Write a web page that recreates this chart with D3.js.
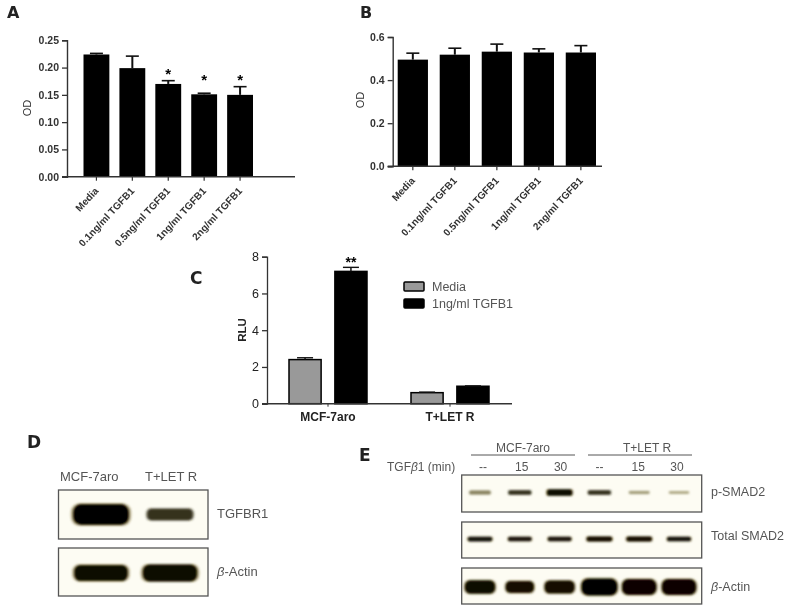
<!DOCTYPE html>
<html>
<head>
<meta charset="utf-8">
<script src="https://cdn.jsdelivr.net/npm/d3@7"></script>
<style>
  html, body { margin: 0; padding: 0; background: #fff; }
  svg { display: block; filter: blur(0.6px); font-family: "Liberation Sans", Arial, sans-serif; }
</style>
</head>
<body>
<script>
const doses = ['Media', '0.1ng/ml TGFB1', '0.5ng/ml TGFB1', '1ng/ml TGFB1', '2ng/ml TGFB1'];

const odA = [0.224, 0.199, 0.170, 0.151, 0.150];
const errA = [0.002, 0.022, 0.006, 0.002, 0.015];
const starsA = [null, null, 0.19, 0.179, 0.179];
const ticksA = [0, 0.05, 0.10, 0.15, 0.20, 0.25];

const odB = [0.495, 0.518, 0.532, 0.528, 0.528];
const errB = [0.030, 0.030, 0.035, 0.017, 0.032];
const ticksB = [0, 0.2, 0.4, 0.6];

const cells = ['MCF-7aro', 'T+LET R'];
const treatments = ['Media', '1ng/ml TGFB1'];
const rluMedia = [2.4, 0.6];
const errMedia = [0.1, 0.03];
const rluTgfb = [7.2, 0.95];
const errTgfb = [0.22, 0.02];
const ticksC = [0, 2, 4, 6, 8];

// blots: relative band signal, read by eye
const lanesD = ['MCF-7aro', 'T+LET R'];
const tgfbr1 = [1.0, 0.45];
const actinD = [0.75, 0.8];

const lanesE = ['--', '15', '30', '-- ', '15 ', '30 '];
const pSmad2 = [0.30, 0.45, 0.75, 0.45, 0.20, 0.15];
const totalSmad2 = [0.55, 0.50, 0.50, 0.62, 0.62, 0.52];
const actinE = [0.72, 0.62, 0.70, 1.0, 0.92, 0.92];

const svg = d3.select('body')
  .append('svg')
  .attr('width', 800)
  .attr('height', 614);

svg.append('defs').append('filter')
  .attr('id', 'smear')
  .attr('x', '-20%').attr('y', '-60%')
  .attr('width', '140%').attr('height', '220%')
  .append('feGaussianBlur')
  .attr('stdDeviation', 0.8);

function panelLetter(t, x, y, size) {
  svg.append('text').text(t)
    .attr('x', x).attr('y', y)
    .style('font-family', '"DejaVu Sans", sans-serif')
    .style('font-size', (size || 16) + 'px')
    .style('font-weight', 'bold')
    .style('fill', '#222');
}

function label(t, x, y, size, anchor, color) {
  return svg.append('text').text(t)
    .attr('x', x).attr('y', y)
    .attr('text-anchor', anchor || 'start')
    .style('font-size', size + 'px')
    .style('fill', color || '#555');
}

// single series bar panels A and B
function barPanel(o) {
  const y = d3.scaleLinear().domain(o.domain).range([o.y0, o.y1]);
  const x = d3.scaleBand().domain(doses).range(o.xRange).paddingInner(o.inner).paddingOuter(0);
  const g = svg.append('g');

  g.selectAll('.bar').data(doses).enter().append('rect')
    .attr('x', d => x(d))
    .attr('y', (d, i) => y(o.values[i]))
    .attr('width', x.bandwidth())
    .attr('height', (d, i) => y(0) - y(o.values[i]))
    .attr('fill', '#000');

  // error bars
  g.selectAll('.stem').data(doses).enter().append('line')
    .attr('x1', d => x(d) + x.bandwidth() / 2)
    .attr('x2', d => x(d) + x.bandwidth() / 2)
    .attr('y1', (d, i) => y(o.values[i]))
    .attr('y2', (d, i) => y(o.values[i] + o.errs[i]))
    .attr('stroke', '#111').attr('stroke-width', 2);
  g.selectAll('.cap').data(doses).enter().append('line')
    .attr('x1', d => x(d) + x.bandwidth() / 2 - 6.5)
    .attr('x2', d => x(d) + x.bandwidth() / 2 + 6.5)
    .attr('y1', (d, i) => y(o.values[i] + o.errs[i]))
    .attr('y2', (d, i) => y(o.values[i] + o.errs[i]))
    .attr('stroke', '#111').attr('stroke-width', 1.6);

  if (o.stars) {
    g.selectAll('.star').data(doses).enter().append('text')
      .filter((d, i) => o.stars[i] !== null)
      .text('*')
      .attr('x', d => x(d) + x.bandwidth() / 2)
      .attr('y', d => y(o.stars[doses.indexOf(d)]) + 6)
      .attr('text-anchor', 'middle')
      .style('font-size', '15px')
      .style('font-weight', 'bold');
  }

  const yAxis = g.append('g')
    .attr('transform', `translate(${o.xAxis},0)`)
    .call(d3.axisLeft(y).tickValues(o.ticks).tickSize(5).tickFormat(d3.format(o.fmt)));
  yAxis.selectAll('text').style('font-size', '10.5px').style('font-weight', 'bold').style('fill', '#333')
    .attr('font-family', null);
  yAxis.select('.domain').attr('stroke', '#333').attr('stroke-width', 1.4);
  yAxis.selectAll('line').attr('stroke', '#333').attr('stroke-width', 1.3);

  g.append('line')
    .attr('x1', o.xAxis - 5).attr('x2', o.xEnd)
    .attr('y1', o.y0).attr('y2', o.y0)
    .attr('stroke', '#333').attr('stroke-width', 1.4);

  const xAxis = g.append('g')
    .attr('transform', `translate(0,${o.y0})`)
    .call(d3.axisBottom(x).tickSize(4).tickPadding(3));
  xAxis.select('.domain').remove();
  xAxis.selectAll('line').attr('stroke', '#333').attr('stroke-width', 1.2);
  xAxis.selectAll('text')
    .attr('text-anchor', 'end')
    .attr('dx', '-9px').attr('dy', '0.5em')
    .attr('transform', 'rotate(-47)')
    .style('font-size', '10px')
    .style('font-weight', 'bold')
    .style('fill', '#333');

  svg.append('text').text('OD')
    .attr('transform', `translate(${o.odX},${o.odY}) rotate(-90)`)
    .attr('text-anchor', 'middle')
    .style('font-size', '11px')
    .style('fill', '#333');
}

panelLetter('A', 7, 18);
barPanel({
  values: odA, errs: errA, stars: starsA, ticks: ticksA, domain: [0, 0.25], fmt: '.2f',
  y0: 176.7, y1: 40.3, xRange: [83.5, 253], inner: 0.28, xAxis: 67, xEnd: 295, odX: 31, odY: 108
});

panelLetter('B', 360, 18);
barPanel({
  values: odB, errs: errB, ticks: ticksB, domain: [0, 0.6], fmt: '.1f',
  y0: 166.3, y1: 37, xRange: [397.7, 596], inner: 0.28, xAxis: 392.7, xEnd: 602, odX: 364, odY: 100
});

// panel C, grouped bars
panelLetter('C', 190, 284, 17);
const yC = d3.scaleLinear().domain([0, 8]).range([403.7, 256.7]);
const xC = d3.scaleBand().domain(cells).range([268, 512]).paddingInner(0);
const xSub = d3.scaleBand().domain(treatments).range([-39, 39]).paddingInner(0.3);
const fillC = d3.scaleOrdinal().domain(treatments).range(['#999', '#000']);
const groupC = [
  { name: treatments[0], vals: rluMedia, errs: errMedia },
  { name: treatments[1], vals: rluTgfb, errs: errTgfb }
];

groupC.forEach(s => {
  const g = svg.append('g');
  g.selectAll('rect').data(cells).enter().append('rect')
    .attr('x', d => xC(d) + xC.bandwidth() / 2 - 1 + xSub(s.name))
    .attr('y', (d, i) => yC(s.vals[i]))
    .attr('width', xSub.bandwidth())
    .attr('height', (d, i) => yC(0) - yC(s.vals[i]))
    .attr('fill', fillC(s.name))
    .attr('stroke', '#000').attr('stroke-width', 1.5);
  g.selectAll('line.stem').data(cells).enter().append('line')
    .attr('class', 'stem')
    .attr('x1', d => xC(d) + xC.bandwidth() / 2 - 1 + xSub(s.name) + xSub.bandwidth() / 2)
    .attr('x2', d => xC(d) + xC.bandwidth() / 2 - 1 + xSub(s.name) + xSub.bandwidth() / 2)
    .attr('y1', (d, i) => yC(s.vals[i]))
    .attr('y2', (d, i) => yC(s.vals[i] + s.errs[i]))
    .attr('stroke', '#111').attr('stroke-width', 1.5);
  g.selectAll('line.cap').data(cells).enter().append('line')
    .attr('class', 'cap')
    .attr('x1', d => xC(d) + xC.bandwidth() / 2 - 1 + xSub(s.name) + xSub.bandwidth() / 2 - 8)
    .attr('x2', d => xC(d) + xC.bandwidth() / 2 - 1 + xSub(s.name) + xSub.bandwidth() / 2 + 8)
    .attr('y1', (d, i) => yC(s.vals[i] + s.errs[i]))
    .attr('y2', (d, i) => yC(s.vals[i] + s.errs[i]))
    .attr('stroke', '#111').attr('stroke-width', 1.4);
});

svg.append('text').text('**')
  .attr('x', xC(cells[0]) + xC.bandwidth() / 2 - 1 + xSub(treatments[1]) + xSub.bandwidth() / 2)
  .attr('y', yC(7.45))
  .attr('text-anchor', 'middle')
  .style('font-size', '14px').style('font-weight', 'bold');

const axisC = svg.append('g').attr('transform', 'translate(267,0)')
  .call(d3.axisLeft(yC).tickValues(ticksC).tickSize(5));
axisC.selectAll('text').style('font-size', '12.5px').style('fill', '#222');
axisC.select('.domain').attr('stroke', '#333').attr('stroke-width', 1.3);
axisC.selectAll('line').attr('stroke', '#333').attr('stroke-width', 1.3);

svg.append('line')
  .attr('x1', 262).attr('x2', 512).attr('y1', yC(0)).attr('y2', yC(0))
  .attr('stroke', '#333').attr('stroke-width', 1.4);

const axisCx = svg.append('g').attr('transform', `translate(-1,${yC(0)})`)
  .call(d3.axisBottom(xC).tickSize(3).tickPadding(6));
axisCx.select('.domain').remove();
axisCx.selectAll('line').attr('stroke', '#333');
axisCx.selectAll('text').style('font-size', '12px').style('font-weight', 'bold').style('fill', '#222');

svg.append('text').text('RLU')
  .attr('transform', 'translate(246,330) rotate(-90)')
  .attr('text-anchor', 'middle')
  .style('font-size', '11.5px').style('font-weight', 'bold').style('fill', '#222');

const legend = svg.selectAll('.legend').data(treatments).enter().append('g')
  .attr('transform', (d, i) => `translate(404,${282 + i * 17})`);
legend.append('rect')
  .attr('width', 20).attr('height', 9).attr('rx', 1)
  .attr('fill', d => fillC(d))
  .attr('stroke', '#000').attr('stroke-width', 1.5);
legend.append('text').text(d => d)
  .attr('x', 28).attr('y', 9)
  .style('font-size', '12.5px').style('fill', '#555');

// blot panels
function blot(o) {
  svg.append('rect')
    .attr('x', o.x0).attr('y', o.y0)
    .attr('width', o.x1 - o.x0).attr('height', o.y1 - o.y0)
    .attr('fill', '#fdfcf3')
    .attr('stroke', '#555').attr('stroke-width', 1.3);

  const thick = d3.scaleLinear().domain([0, 1]).range(o.thick);
  const wide = d3.scaleLinear().domain([0, 1]).range(o.wide);
  const shade = d3.scaleLinear().domain([0, 0.3, 0.5, 1]).range(['#d8d4b0', '#8a8460', '#1a1508', '#050300']);
  const g = svg.append('g').attr('filter', 'url(#smear)');

  // sepia rim first, then the dark core
  [[1.08, 0.5, '#6b5a20'], [1, 1, null]].forEach(([k, op, rim]) => {
    g.selectAll(null).data(o.lanes).enter().append('rect')
      .attr('x', (d, i) => o.lane(d) - wide(o.signal[i]) * k / 2)
      .attr('y', (d, i) => (o.y0 + o.y1) / 2 + o.shift - thick(o.signal[i]) * k / 2)
      .attr('width', (d, i) => wide(o.signal[i]) * k)
      .attr('height', (d, i) => thick(o.signal[i]) * k)
      .attr('rx', (d, i) => thick(o.signal[i]) * k * 0.4)
      .attr('fill', (d, i) => rim && o.signal[i] >= 0.5 ? rim : shade(o.signal[i]))
      .attr('opacity', op);
  });
}

panelLetter('D', 27, 448, 17);
const laneD = d3.scalePoint().domain(lanesD).range([101, 170]);
blot({ x0: 58.5, x1: 208, y0: 490, y1: 539, shift: 0, lanes: lanesD, lane: laneD, signal: tgfbr1, thick: [4, 21], wide: [36, 56] });
blot({ x0: 58.5, x1: 208, y0: 548, y1: 596, shift: 1, lanes: lanesD, lane: laneD, signal: actinD, thick: [4, 20], wide: [40, 58] });
label('MCF-7aro', 60, 481, 13);
label('T+LET R', 145, 481, 13);
label('TGFBR1', 217, 518, 13);
const actinLabelD = label('', 217, 576, 13);
actinLabelD.append('tspan').text('β').style('font-style', 'italic');
actinLabelD.append('tspan').text('-Actin');

panelLetter('E', 359, 461, 17);
const laneE = d3.scalePoint().domain(lanesE).range([480, 679]);
const laneTextE = d3.scalePoint().domain(lanesE).range([483, 677]);
blot({ x0: 461.7, x1: 701.7, y0: 475, y1: 512, shift: -1, lanes: lanesE, lane: laneE, signal: pSmad2, thick: [2, 8], wide: [18, 28] });
blot({ x0: 461.7, x1: 701.7, y0: 522, y1: 558, shift: -1, lanes: lanesE, lane: laneE, signal: totalSmad2, thick: [2, 7], wide: [15, 32] });
blot({ x0: 461.7, x1: 701.7, y0: 568, y1: 604, shift: 1, lanes: lanesE, lane: laneE, signal: actinE, thick: [4, 17], wide: [16, 36] });

label('MCF-7aro', 523, 452, 12, 'middle');
label('T+LET R', 647, 452, 12, 'middle');
svg.append('line').attr('x1', 471).attr('x2', 575).attr('y1', 455).attr('y2', 455).attr('stroke', '#555');
svg.append('line').attr('x1', 588).attr('x2', 692).attr('y1', 455).attr('y2', 455).attr('stroke', '#555');

const minLabel = label('', 387, 471, 12);
minLabel.append('tspan').text('TGF');
minLabel.append('tspan').text('β').style('font-style', 'italic');
minLabel.append('tspan').text('1 (min)');
svg.selectAll('.lane').data(lanesE).enter().append('text')
  .text(d => d.trim())
  .attr('x', d => laneTextE(d))
  .attr('y', 471)
  .attr('text-anchor', 'middle')
  .style('font-size', '12px').style('fill', '#555');

label('p-SMAD2', 711, 496, 12.5);
label('Total SMAD2', 711, 540, 12.5);
const actinLabelE = label('', 711, 591, 12.5);
actinLabelE.append('tspan').text('β').style('font-style', 'italic');
actinLabelE.append('tspan').text('-Actin');
</script>
</body>
</html>
